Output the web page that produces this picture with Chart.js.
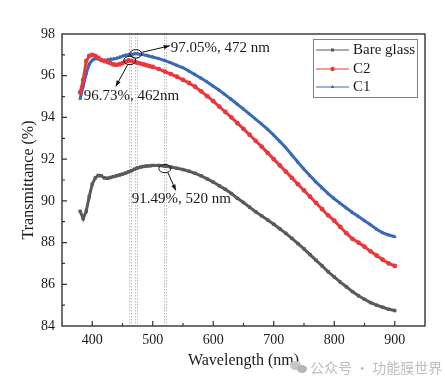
<!DOCTYPE html>
<html>
<head>
<meta charset="utf-8">
<script src="https://cdn.jsdelivr.net/npm/chart.js@4.4.0/dist/chart.umd.min.js"></script>
<style>
html,body{margin:0;padding:0;background:#fff;}
#wrap{position:relative;width:445px;height:386px;}
#wm{position:absolute;left:310px;top:357px;font:14px "Noto Sans CJK SC",sans-serif;color:#bdbdbd;white-space:nowrap;}
.ic{position:absolute;border-radius:50%;background:#c8c8c8;}
</style>
</head>
<body>
<div id="wrap">
<canvas id="c" width="445" height="386"></canvas>
<div class="ic" style="left:290px;top:361px;width:11px;height:9px;"></div>
<div class="ic" style="left:297px;top:365px;width:10px;height:8px;background:#b5b5b5;"></div>
<div id="wm">公众号 · 功能膜世界</div>
</div>
<script>
const wavelength = [380,385,390,395,400,405,410,415,420,425,430,435,440,445,450,455,460,465,470,475,480,485,490,495,500,
  510,520,530,540,550,560,570,580,590,600,610,620,630,640,650,660,670,680,690,700,
  710,720,730,740,750,760,770,780,790,800,810,820,830,840,850,860,870,880,890,900];
const bareGlass = [89.5,89.15,89.5,90.2,90.8,91.1,91.22,91.2,91.1,91.08,91.12,91.16,91.2,91.24,91.28,91.33,91.39,91.45,91.52,91.58,91.62,91.65,91.67,91.68,91.7,
  91.7,91.66,91.62,91.56,91.5,91.42,91.32,91.2,91.05,90.9,90.72,90.55,90.35,90.12,89.92,89.7,89.48,89.28,89.08,88.88,
  88.66,88.44,88.2,87.95,87.7,87.42,87.15,86.88,86.6,86.35,86.1,85.88,85.65,85.45,85.28,85.12,85.0,84.9,84.8,84.74];
const c2 = [95.2,95.8,96.7,96.95,97.0,96.95,96.85,96.75,96.7,96.66,96.6,96.54,96.52,96.55,96.6,96.68,96.73,96.7,96.66,96.62,96.58,96.54,96.5,96.46,96.42,
  96.32,96.2,96.08,95.95,95.8,95.65,95.47,95.25,95.02,94.78,94.52,94.26,94.0,93.72,93.45,93.17,92.88,92.6,92.3,92.0,
  91.7,91.4,91.1,90.8,90.5,90.2,89.9,89.6,89.3,89.05,88.75,88.45,88.18,88.0,87.8,87.58,87.38,87.18,87.0,86.88];
const c1 = [94.9,95.5,96.1,96.55,96.75,96.82,96.8,96.76,96.74,96.76,96.79,96.8,96.83,96.88,96.94,96.98,97.0,97.02,97.05,97.05,97.02,97.0,96.97,96.93,96.9,
  96.82,96.72,96.62,96.5,96.38,96.22,96.05,95.88,95.7,95.5,95.3,95.08,94.86,94.63,94.4,94.16,93.92,93.68,93.43,93.15,
  92.85,92.55,92.2,91.85,91.52,91.2,90.9,90.62,90.35,90.1,89.88,89.66,89.44,89.25,89.05,88.85,88.64,88.47,88.36,88.28];
const seriesNames = ['Bare glass','C2','C1'];
const xTicks = [400,500,600,700,800,900];
const yTicks = [84,86,88,90,92,94,96,98];
const markLines = [462,472,520];
const marks = [
  {x:472, y:97.05, text:'97.05%, 472 nm'},
  {x:462, y:96.73, text:'96.73%, 462nm'},
  {x:520, y:91.55, text:'91.49%, 520 nm'}
];

const colors = ['#5a5a5a','#e8383b','#3a6ab5'];
const styles = ['rect','circle','triangle'];
const seriesData = [bareGlass,c2,c1];
const SERIF = '"Liberation Serif","Times New Roman",serif';

const datasets = seriesData.map((vals,k)=>({
  label: seriesNames[k],
  data: wavelength.map((w,i)=>({x:w,y:vals[i]})),
  borderColor: colors[k],
  backgroundColor: colors[k],
  borderWidth: 3,
  pointStyle: styles[k],
  pointRadius: 2.4,
  pointBorderWidth: 0,
  pointBackgroundColor: colors[k],
  tension: 0
}));

const decor = {
  id:'decor',
  beforeDatasetsDraw(chart){
    const {ctx, chartArea:a, scales:{x}} = chart;
    ctx.save();
    ctx.strokeStyle = '#bdbdbd';
    ctx.lineWidth = 1;
    ctx.setLineDash([1.5,1.5]);
    markLines.forEach(v=>{
      const px = Math.round(x.getPixelForValue(v))+0.5;
      ctx.beginPath(); ctx.moveTo(px-1,a.top); ctx.lineTo(px-1,a.bottom); ctx.stroke();
      ctx.beginPath(); ctx.moveTo(px+1,a.top); ctx.lineTo(px+1,a.bottom); ctx.stroke();
    });
    ctx.restore();
  },
  afterDatasetsDraw(chart){
    const {ctx, chartArea:a, scales:{x,y}} = chart;
    ctx.save();
    ctx.strokeStyle = '#333';
    ctx.lineWidth = 1.4;
    ctx.strokeRect(a.left, a.top, a.right-a.left, a.bottom-a.top);
    ctx.lineWidth = 1.2;
    ctx.beginPath();
    for (let v=400; v<=900; v+=50){
      const px = x.getPixelForValue(v);
      const len = (v%100===0)?5:3;
      ctx.moveTo(px,a.bottom); ctx.lineTo(px,a.bottom-len);
    }
    for (let v=85; v<98; v+=1){
      const py = y.getPixelForValue(v);
      const len = (v%2===0)?5:3;
      ctx.moveTo(a.left,py); ctx.lineTo(a.left+len,py);
    }
    ctx.stroke();
    const offs = [
      {tx:35, ty:-6, ax0:6, ay0:-1.5, ax1:34, ay1:-8},
      {tx:-46, ty:36, ax0:-2, ay0:4, ax1:-14, ay1:26},
      {tx:-33, ty:31, ax0:3, ay0:4, ax1:11, ay1:22}
    ];
    ctx.font = '15px '+SERIF;
    ctx.textBaseline = 'middle';
    ctx.textAlign = 'left';
    marks.forEach((m,i)=>{
      const px = x.getPixelForValue(m.x), py = y.getPixelForValue(m.y);
      const o = offs[i];
      ctx.strokeStyle = '#111'; ctx.lineWidth = 1; ctx.setLineDash([]);
      ctx.beginPath(); ctx.ellipse(px,py,6,4.2,0,0,Math.PI*2); ctx.stroke();
      const x0=px+o.ax0, y0=py+o.ay0, x1=px+o.ax1, y1=py+o.ay1;
      ctx.beginPath(); ctx.moveTo(x0,y0); ctx.lineTo(x1,y1); ctx.stroke();
      const ang = Math.atan2(y1-y0,x1-x0);
      ctx.fillStyle = '#111';
      ctx.beginPath();
      ctx.moveTo(x1,y1);
      ctx.lineTo(x1-6*Math.cos(ang)+2.2*Math.sin(ang), y1-6*Math.sin(ang)-2.2*Math.cos(ang));
      ctx.lineTo(x1-6*Math.cos(ang)-2.2*Math.sin(ang), y1-6*Math.sin(ang)+2.2*Math.cos(ang));
      ctx.closePath(); ctx.fill();
      ctx.fillStyle = '#1a1a1a';
      ctx.fillText(m.text, px+o.tx, py+o.ty);
    });
    const lx=313.5, ly=39.5, lw=104, lh=58;
    ctx.fillStyle='#fff'; ctx.fillRect(lx,ly,lw,lh);
    ctx.strokeStyle='#808080'; ctx.lineWidth=1; ctx.strokeRect(lx,ly,lw,lh);
    const rows=[50,69,87];
    chart.data.datasets.forEach((ds,k)=>{
      const yy=rows[k];
      ctx.strokeStyle=ds.borderColor; ctx.lineWidth=1;
      ctx.beginPath(); ctx.moveTo(316,yy); ctx.lineTo(349,yy); ctx.stroke();
      ctx.fillStyle=ds.borderColor;
      Chart.helpers.drawPoint(ctx,{pointStyle:ds.pointStyle,radius:2.2,borderWidth:0},332.5,yy);
      ctx.fillStyle='#1a1a1a';
      ctx.font='15px '+SERIF;
      ctx.fillText(ds.label,353,yy+0.5);
    });
    ctx.restore();
  }
};

new Chart(document.getElementById('c'),{
  type:'line',
  data:{datasets},
  options:{
    responsive:false,
    animation:false,
    layout:{padding:{top:34,right:20,left:0,bottom:0}},
    plugins:{legend:{display:false},tooltip:{enabled:false}},
    scales:{
      x:{
        type:'linear', min:350, max:950,
        afterBuildTicks:s=>{s.ticks = xTicks.map(v=>({value:v}));},
        afterFit:s=>{s.height=60;},
        grid:{display:false, drawTicks:false},
        border:{display:false},
        ticks:{padding:6, color:'#1a1a1a', font:{family:SERIF,size:14}, maxRotation:0},
        title:{display:true, text:'Wavelength (nm)', color:'#1a1a1a', font:{family:SERIF,size:16}, padding:{top:0,bottom:16}}
      },
      y:{
        min:84, max:98,
        afterBuildTicks:s=>{s.ticks = yTicks.map(v=>({value:v}));},
        afterFit:s=>{s.width=62;},
        grid:{display:false, drawTicks:false},
        border:{display:false},
        ticks:{padding:7, color:'#1a1a1a', font:{family:SERIF,size:14}},
        title:{display:true, text:'Transmittance (%)', color:'#1a1a1a', font:{family:SERIF,size:16}, padding:{top:19,bottom:0}}
      }
    }
  },
  plugins:[decor]
});
</script>
</body>
</html>
